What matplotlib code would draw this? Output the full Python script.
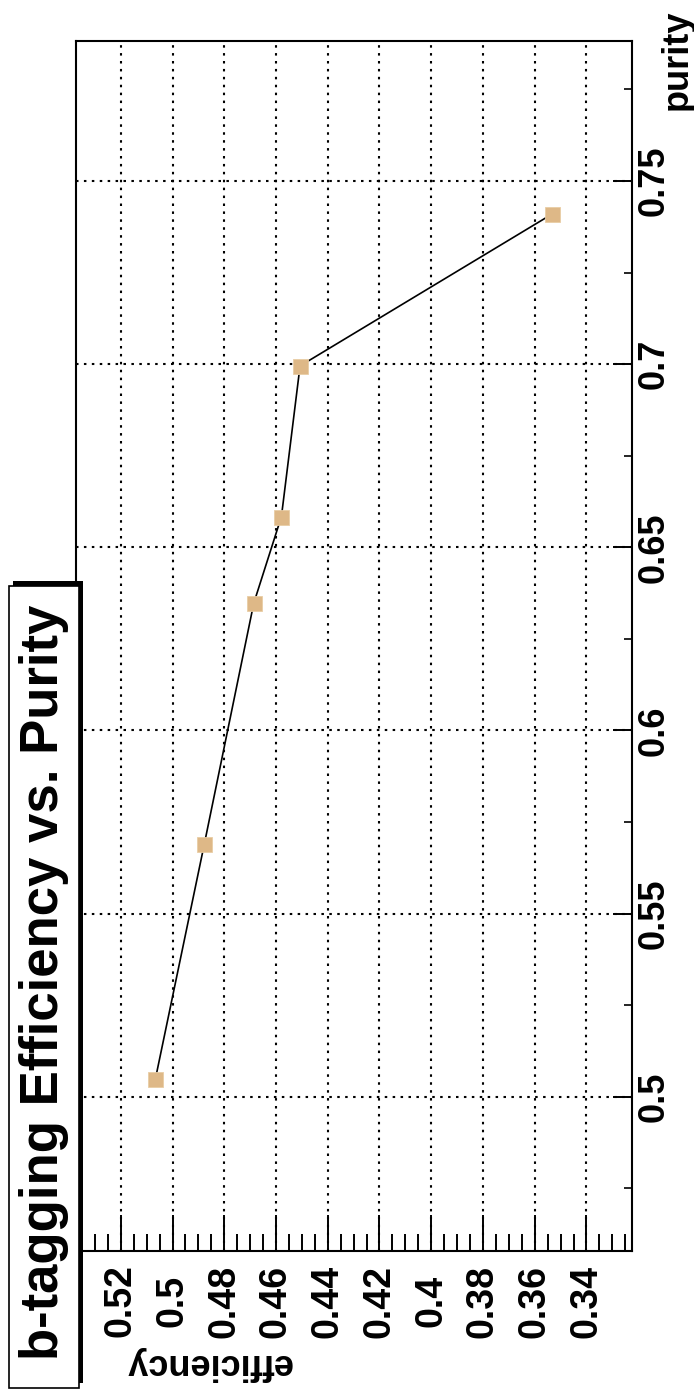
import matplotlib
matplotlib.use("Agg")
import matplotlib.pyplot as plt
from matplotlib.ticker import MultipleLocator, FuncFormatter
from matplotlib.patches import Rectangle
from matplotlib.transforms import ScaledTranslation

# ---- data (efficiency vs purity) ----
purity = [0.5049, 0.5690, 0.6347, 0.6584, 0.6995, 0.7410]
efficiency = [0.5066, 0.4877, 0.4686, 0.4579, 0.4507, 0.3532]

eff_lim = (0.5373, 0.3224)   # displayed left -> right
pur_lim = (0.4579, 0.7882)   # bottom -> top

title = "b-tagging Efficiency vs. Purity"
xlabel = "efficiency"
ylabel = "purity"

FONT = "Liberation Sans"
W, H = 694, 1395
fig = plt.figure(figsize=(W / 100, H / 100), dpi=100)

L, R, T, B = 76, 632, 41, 1251
ax = fig.add_axes([L / W, (H - B) / H, (R - L) / W, (B - T) / H])

ax.plot(efficiency, purity, color="black", lw=1.2, zorder=3)
ax.plot(efficiency, purity, ls="none", marker="s", markersize=10.8,
        markerfacecolor="#DEB887", markeredgecolor="#E9CDA5", mew=0.6, zorder=4)

ax.set_xlim(*eff_lim)
ax.set_ylim(*pur_lim)

ax.xaxis.set_major_locator(MultipleLocator(0.02))
ax.xaxis.set_minor_locator(MultipleLocator(0.005))
ax.yaxis.set_major_locator(MultipleLocator(0.05))
ax.yaxis.set_minor_locator(MultipleLocator(0.025))
fmt = FuncFormatter(lambda v, p: "%g" % round(v, 3))
ax.xaxis.set_major_formatter(fmt)
ax.yaxis.set_major_formatter(fmt)

ax.yaxis.tick_right()
ax.tick_params(axis="x", which="major", direction="in", length=26, width=1.4,
               pad=36, labelsize=27, labelrotation=90)
ax.tick_params(axis="x", which="minor", direction="in", length=12, width=1.4)
ax.tick_params(axis="y", which="major", direction="in", length=13.5, width=1.4,
               pad=3, labelsize=26, labelrotation=90, left=False, right=True)
ax.tick_params(axis="y", which="minor", direction="in", length=5.6, width=1.2,
               left=False, right=True)
ax.tick_params(top=False)

for lab in ax.get_xticklabels():
    lab.set_fontfamily(FONT)
    lab.set_fontweight("bold")
    lab.set_verticalalignment("center")
    lab.set_horizontalalignment("center")
for lab in ax.get_yticklabels():
    lab.set_fontfamily(FONT)
    lab.set_fontweight("bold")
    lab.set_verticalalignment("center")
    lab.set_horizontalalignment("left")

# last purity label is shifted upward in the reference
ticks = ax.yaxis.get_major_ticks()
last = ticks[-1].label2
last.set_transform(last.get_transform() + ScaledTranslation(0, 16 / 100, fig.dpi_scale_trans))

ax.grid(True, which="major", color="black", linestyle=(0, (1.2, 2.6)), linewidth=1.5)
ax.set_axisbelow(True)
for s in ax.spines.values():
    s.set_linewidth(1.5)
    s.set_zorder(5)

# axis titles
fig.text(208 / W, (H - 1363) / H, xlabel, rotation=180, ha="center", va="center",
         fontsize=26, fontweight="bold", family=FONT)
fig.text(677 / W, (H - 60) / H, ylabel, rotation=90, ha="center", va="center",
         fontsize=26, fontweight="bold", family=FONT)

# title box with shadow
shadow = Rectangle((13 / W, 12 / H), 70 / W, 802 / H, transform=fig.transFigure,
                   facecolor="black", edgecolor="none", zorder=10)
box = Rectangle((9 / W, 7 / H), 70 / W, 802 / H, transform=fig.transFigure,
                facecolor="white", edgecolor="black", lw=1.2, zorder=11)
fig.patches.extend([shadow, box])
fig.text(44 / W, (H - 982) / H, title, rotation=90, ha="center", va="center",
         fontsize=38, fontweight="bold", family=FONT, zorder=12)

fig.savefig("out.png", dpi=100)
